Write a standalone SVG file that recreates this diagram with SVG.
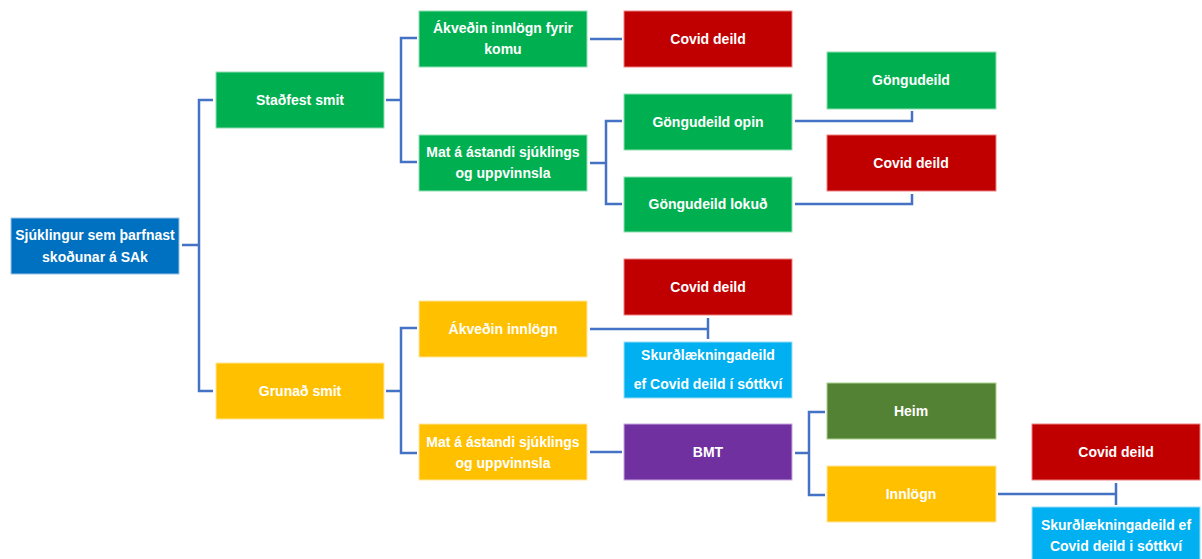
<svg xmlns="http://www.w3.org/2000/svg" width="1202" height="559" viewBox="0 0 1202 559">
<style>
.b{stroke-width:1}
.blue{fill:#0070C0;stroke:#9DC3E6}
.green{fill:#00B050;stroke:#8FE0B0}
.red{fill:#C00000;stroke:#F08080}
.yellow{fill:#FFC000;stroke:#FFE699}
.cyan{fill:#00B0F0;stroke:#9DDCF5}
.purple{fill:#7030A0;stroke:#C9A8E0}
.dgreen{fill:#548235;stroke:#A9D18E}
text{font-family:"Liberation Sans",Arial,sans-serif;font-size:14px;font-weight:bold;fill:#FFFFFF;text-anchor:middle}
.c{fill:none;stroke:#4472C4;stroke-width:2.5}
</style>
<rect width="1202" height="559" fill="#FFFFFF"/>
<g id="connectors">
<path class="c" d="M182 245H199M213 100H199V391H213"/>
<path class="c" d="M386 100H401M417 38H401V162H417"/>
<path class="c" d="M590 39H622"/>
<path class="c" d="M590 163H606M622 121H606V204H622"/>
<path class="c" d="M795 121H912V111"/>
<path class="c" d="M795 204H912V194"/>
<path class="c" d="M386 391H401M417 328H401V453H417"/>
<path class="c" d="M590 329H708M708 318V339"/>
<path class="c" d="M590 452H622"/>
<path class="c" d="M795 453H809M825 412H809V495H825"/>
<path class="c" d="M998 494H1116M1116 483V505"/>
</g>
<g id="root"><rect class="b blue" x="11" y="218" width="168" height="56"/><text x="95" y="240">Sjúklingur sem þarfnast</text><text x="95" y="262">skoðunar á SAk</text></g>
<g id="stadfest"><rect class="b green" x="216" y="72" width="168" height="56"/><text x="300" y="105">Staðfest smit</text></g>
<g id="grunad"><rect class="b yellow" x="216" y="363" width="168" height="56"/><text x="300" y="396">Grunað smit</text></g>
<g id="akvedin-fyrir"><rect class="b green" x="419" y="11" width="168" height="56"/><text x="503" y="33">Ákveðin innlögn fyrir</text><text x="503" y="54">komu</text></g>
<g id="mat1"><rect class="b green" x="419" y="135" width="168" height="56"/><text x="503" y="157">Mat á ástandi sjúklings</text><text x="503" y="178">og uppvinnsla</text></g>
<g id="covid1"><rect class="b red" x="624" y="11" width="168" height="56"/><text x="708" y="44">Covid deild</text></g>
<g id="gongudeild-opin"><rect class="b green" x="624" y="94" width="168" height="56"/><text x="708" y="127">Göngudeild opin</text></g>
<g id="gongudeild-lokud"><rect class="b green" x="624" y="177" width="168" height="55"/><text x="708" y="209">Göngudeild lokuð</text></g>
<g id="gongudeild"><rect class="b green" x="827" y="52" width="169" height="57"/><text x="911" y="85">Göngudeild</text></g>
<g id="covid2"><rect class="b red" x="827" y="135" width="169" height="56"/><text x="911" y="168">Covid deild</text></g>
<g id="akvedin"><rect class="b yellow" x="419" y="301" width="168" height="56"/><text x="503" y="334">Ákveðin innlögn</text></g>
<g id="mat2"><rect class="b yellow" x="419" y="424" width="168" height="56"/><text x="503" y="447">Mat á ástandi sjúklings</text><text x="503" y="468">og uppvinnsla</text></g>
<g id="covid3"><rect class="b red" x="624" y="259" width="168" height="56"/><text x="708" y="292">Covid deild</text></g>
<g id="skurd1"><rect class="b cyan" x="624" y="342" width="168" height="56"/><text x="708" y="360">Skurðlækningadeild</text><text x="708" y="389">ef Covid deild í sóttkví</text></g>
<g id="bmt"><rect class="b purple" x="624" y="424" width="168" height="56"/><text x="708" y="457">BMT</text></g>
<g id="heim"><rect class="b dgreen" x="827" y="383" width="169" height="56"/><text x="911" y="416">Heim</text></g>
<g id="innlogn"><rect class="b yellow" x="827" y="466" width="169" height="56"/><text x="911" y="499">Innlögn</text></g>
<g id="covid4"><rect class="b red" x="1032" y="424" width="168" height="56"/><text x="1116" y="457">Covid deild</text></g>
<g id="skurd2"><rect class="b cyan" x="1032" y="507" width="168" height="60"/><text x="1116" y="530">Skurðlækningadeild ef</text><text x="1116" y="551">Covid deild i sóttkví</text></g>
</svg>
